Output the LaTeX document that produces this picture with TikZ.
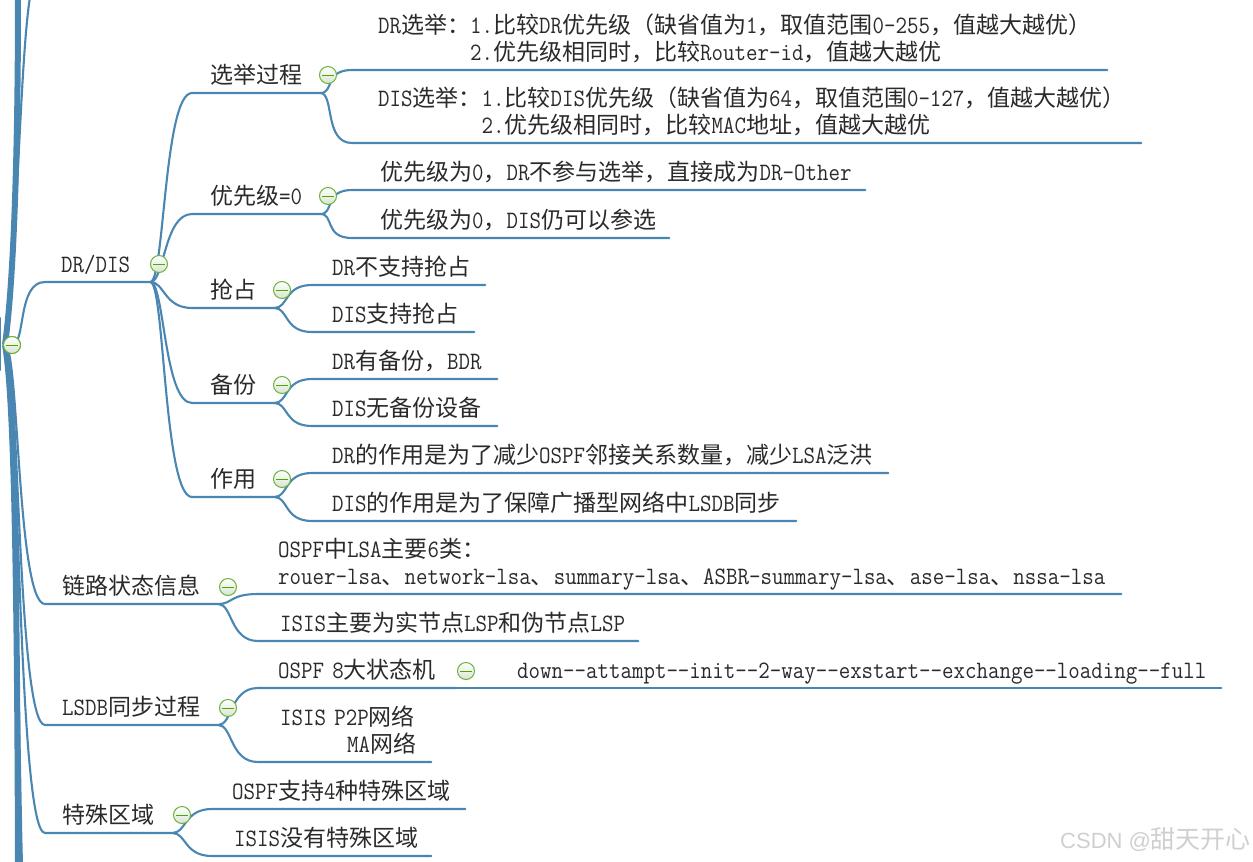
\documentclass[tikz,border=0pt]{standalone}
\usepackage{fontspec}
\usepackage{xcolor}
\usetikzlibrary{calc}
\newfontfamily\cjk{Noto Sans CJK SC}
\newfontfamily\stampfont{Liberation Sans}
\newfontfamily\latinfont{Latin Modern Mono}[FakeStretch=0.892]
\definecolor{MapBlue}{HTML}{4A86B2}
\definecolor{FoldLine}{HTML}{6DB13A}
\definecolor{FoldFill}{HTML}{D8E4D2}
\definecolor{FoldBar}{HTML}{55A400}
\definecolor{Ink}{HTML}{2A2A2A}
\definecolor{Stamp}{HTML}{CFCFCF}
\newcommand{\zh}[1]{{\cjk\fontsize{23}{27}\selectfont #1}}

\begin{document}
\begin{tikzpicture}[
  x=1pt,y=-1pt,
  font=\latinfont\fontsize{25}{27}\selectfont,
  text=Ink,
  topic/.style={anchor=south west,inner sep=0pt,text depth=9pt,align=left},
  tworow/.style={text depth=36pt},
  branch/.style={draw=MapBlue,line width=2.1pt,line cap=round},
  trunk/.style={draw=MapBlue,line width=6pt},
  fork/.style={to path={.. controls ($(\tikztostart)+(14,0)$) and
    ($(\tikztotarget)+(-28,0)$) .. (\tikztotarget)}},
  fold/.style={circle,draw=FoldLine,line width=1pt,minimum size=17pt,inner sep=0pt,
    top color=white,bottom color=FoldFill,
    path picture={\draw[FoldBar,line width=1pt]
      ($(path picture bounding box.center)+(-6,0)$) --
      ($(path picture bounding box.center)+(6,0)$);}}
]
  \useasboundingbox (0,0) rectangle (1253,862);

  % first level
  \node[topic,text width=105pt] (drdis) at (45,282) {\hspace*{16pt}DR/DIS};
  \node[topic,text width=173pt] (linkstate) at (45,604) {\hspace*{17pt}\zh{链路状态信息}};
  \node[topic,text width=173pt] (lsdbsync) at (45,725) {\hspace*{17pt}LSDB\zh{同步过程}};
  \node[topic,text width=127pt] (special) at (45,833) {\hspace*{17pt}\zh{特殊区域}};

  % second level under DR/DIS
  \node[topic,text width=128pt] (election) at (192,93) {\hspace*{18pt}\zh{选举过程}};
  \node[topic,text width=128pt] (prizero) at (192,214) {\hspace*{18pt}\zh{优先级}=0};
  \node[topic,text width=82pt] (preempt) at (192,308) {\hspace*{18pt}\zh{抢占}};
  \node[topic,text width=82pt] (backup) at (192,403) {\hspace*{18pt}\zh{备份}};
  \node[topic,text width=82pt] (purpose) at (192,497) {\hspace*{18pt}\zh{作用}};

  % leaves
  \node[topic,tworow,text width=755pt] (drelect) at (352,70)
    {\hspace*{26pt}DR\zh{选举：}1.\zh{比较}DR\zh{优先级（缺省值为}1\zh{，取值范围}0-255\zh{，值越大越优）}\\
     \hspace*{118pt}2.\zh{优先级相同时，比较}Router-id\zh{，值越大越优}};
  \node[topic,tworow,text width=789pt] (diselect) at (352,143)
    {\hspace*{26pt}DIS\zh{选举：}1.\zh{比较}DIS\zh{优先级（缺省值为}64\zh{，取值范围}0-127\zh{，值越大越优）}\\
     \hspace*{129.5pt}2.\zh{优先级相同时，比较}MAC\zh{地址，值越大越优}};
  \node[topic,text width=513pt] (drzero) at (352,190)
    {\hspace*{28pt}\zh{优先级为}0\zh{，}DR\zh{不参与选举，直接成为}DR-Other};
  \node[topic,text width=317pt] (diszero) at (352,238)
    {\hspace*{28pt}\zh{优先级为}0\zh{，}DIS\zh{仍可以参选}};
  \node[topic,text width=173pt] (drpre) at (312,285) {\hspace*{20pt}DR\zh{不支持抢占}};
  \node[topic,text width=162pt] (dispre) at (312,332) {\hspace*{20pt}DIS\zh{支持抢占}};
  \node[topic,text width=185pt] (drbak) at (312,379) {\hspace*{20pt}DR\zh{有备份，}BDR};
  \node[topic,text width=185pt] (disbak) at (312,426) {\hspace*{20pt}DIS\zh{无备份设备}};
  \node[topic,text width=576pt] (druse) at (312,473)
    {\hspace*{20pt}DR\zh{的作用是为了减少}OSPF\zh{邻接关系数量，减少}LSA\zh{泛洪}};
  \node[topic,text width=484pt] (disuse) at (312,521)
    {\hspace*{20pt}DIS\zh{的作用是为了保障广播型网络中}LSDB\zh{同步}};
  \node[topic,tworow,text width=863pt] (ospflsa) at (258,594)
    {\hspace*{20pt}OSPF\zh{中}LSA\zh{主要}6\zh{类：}\\
     \hspace*{20pt}rouer-lsa\zh{、}network-lsa\zh{、}summary-lsa\zh{、}ASBR-summary-lsa\zh{、}ase-lsa\zh{、}nssa-lsa};
  \node[topic,text width=380pt] (isislsp) at (258,641)
    {\hspace*{22pt}ISIS\zh{主要为实节点}LSP\zh{和伪节点}LSP};
  \node[topic,text width=198pt] (ospffsm) at (258,688) {\hspace*{20pt}OSPF 8\zh{大状态机}};
  \node[topic,text width=725pt] (fsmchain) at (496,688)
    {\hspace*{21pt}down{-}{-}attampt{-}{-}init{-}{-}2-way{-}{-}exstart{-}{-}exchange{-}{-}loading{-}{-}full};
  \node[topic,tworow,text width=173pt] (isisnet) at (258,762)
    {\hspace*{22pt}ISIS P2P\zh{网络}\\
     \hspace*{89pt}MA\zh{网络}};
  \node[topic,text width=253pt] (ospfarea) at (212,809) {\hspace*{20pt}OSPF\zh{支持}4\zh{种特殊区域}};
  \node[topic,text width=219pt] (isisarea) at (212,856) {\hspace*{22pt}ISIS\zh{没有特殊区域}};

  \node[anchor=base west,inner sep=0pt,text=Stamp,font=\stampfont\fontsize{22}{26}\selectfont] (stamp)
    at (1060,848) {CSDN @{\cjk\fontsize{25}{26}\selectfont 甜天开心}};

  % trunk
  \node[fold] (root) at (12,345) {};
  \coordinate (hub) at (5,345);
  \coordinate (trunktop) at (18,-3);
  \coordinate (trunkend) at (18,865);
  \coordinate (sidetop) at (30,-3);
  \coordinate (sideend) at (22,865);
  \coordinate (edgetop) at (0,318);
  \coordinate (edgeend) at (0,370);
  \draw[trunk] (trunktop) .. controls (18,130) and (15,270) .. (hub);
  \draw[trunk] (hub) .. controls (12,385) and (17,500) .. (trunkend);
  \draw[branch] (sidetop) .. controls (20,60) and (18,240) .. (hub);
  \draw[branch] (hub) .. controls (18,500) and (19,760) .. (sideend);
  \draw[branch] (edgetop) -- (edgeend);

  % first level links
  \draw[branch] (root.center) to[fork] (drdis.south west) -- (drdis.south east);
  \draw[branch] (hub) to[fork] (linkstate.south west) -- (linkstate.south east);
  \draw[branch] (hub) to[fork] (lsdbsync.south west) -- (lsdbsync.south east);
  \draw[branch] (hub) to[fork] (special.south west) -- (special.south east);

  % second level links
  \draw[branch] (drdis.south east) to[fork] (election.south west) -- (election.south east);
  \draw[branch] (drdis.south east) to[fork] (prizero.south west) -- (prizero.south east);
  \draw[branch] (drdis.south east) to[fork] (preempt.south west) -- (preempt.south east);
  \draw[branch] (drdis.south east) to[fork] (backup.south west) -- (backup.south east);
  \draw[branch] (drdis.south east) to[fork] (purpose.south west) -- (purpose.south east);

  % leaf links
  \draw[branch] (election.south east) to[fork] (drelect.south west) -- (drelect.south east);
  \draw[branch] (election.south east) to[fork] (diselect.south west) -- (diselect.south east);
  \draw[branch] (prizero.south east) to[fork] (drzero.south west) -- (drzero.south east);
  \draw[branch] (prizero.south east) to[fork] (diszero.south west) -- (diszero.south east);
  \draw[branch] (preempt.south east) to[fork] (drpre.south west) -- (drpre.south east);
  \draw[branch] (preempt.south east) to[fork] (dispre.south west) -- (dispre.south east);
  \draw[branch] (backup.south east) to[fork] (drbak.south west) -- (drbak.south east);
  \draw[branch] (backup.south east) to[fork] (disbak.south west) -- (disbak.south east);
  \draw[branch] (purpose.south east) to[fork] (druse.south west) -- (druse.south east);
  \draw[branch] (purpose.south east) to[fork] (disuse.south west) -- (disuse.south east);
  \draw[branch] (linkstate.south east) to[fork] (ospflsa.south west) -- (ospflsa.south east);
  \draw[branch] (linkstate.south east) to[fork] (isislsp.south west) -- (isislsp.south east);
  \draw[branch] (lsdbsync.south east) to[fork] (ospffsm.south west) -- (ospffsm.south east);
  \draw[branch] (ospffsm.south east) -- (fsmchain.south west) -- (fsmchain.south east);
  \draw[branch] (lsdbsync.south east) to[fork] (isisnet.south west) -- (isisnet.south east);
  \draw[branch] (special.south east) to[fork] (ospfarea.south west) -- (ospfarea.south east);
  \draw[branch] (special.south east) to[fork] (isisarea.south west) -- (isisarea.south east);

  % fold markers
  \node[fold] (rootfold) at (root.center) {};
  \node[fold] (drdisfold) at (159,264) {};
  \node[fold] (electionfold) at (328,75) {};
  \node[fold] (prizerofold) at (328,196) {};
  \node[fold] (preemptfold) at (282,290) {};
  \node[fold] (backupfold) at (282,385) {};
  \node[fold] (purposefold) at (282,479) {};
  \node[fold] (linkstatefold) at (228,587) {};
  \node[fold] (lsdbfold) at (228,708) {};
  \node[fold] (ospffsmfold) at (466,671) {};
  \node[fold] (specialfold) at (182,815) {};
\end{tikzpicture}
\end{document}
